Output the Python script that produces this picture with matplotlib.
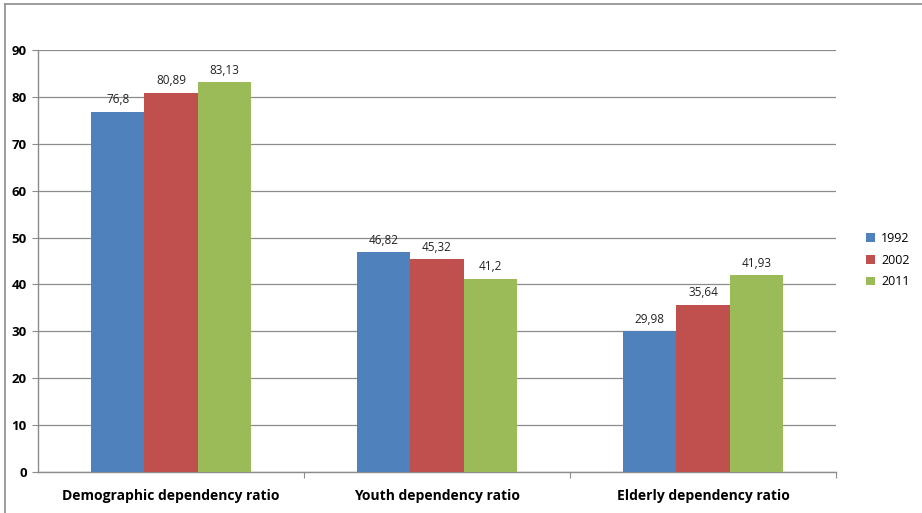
import numpy as np
import matplotlib.pyplot as plt
from matplotlib.lines import Line2D
from matplotlib.patches import Patch

categories = ['Demographic dependency ratio', 'Youth dependency ratio', 'Elderly dependency ratio']
years = ['1992', '2002', '2011']
values_1992 = [76.8, 46.82, 29.98]
values_2002 = [80.89, 45.32, 35.64]
values_2011 = [83.13, 41.2, 41.93]

colors = ['#4F81BD', '#C0504D', '#9BBB59']
plt.rcParams['font.family'] = ['Open Sans', 'DejaVu Sans']

fig = plt.figure(figsize=(9.22, 5.13), dpi=100)
ax = fig.add_axes([38 / 922, 1 - 472 / 513, (836 - 38) / 922, (472 - 50) / 513])

x = np.arange(len(categories))
width = 0.2
series = [values_1992, values_2002, values_2011]

for i, (vals, col) in enumerate(zip(series, colors)):
    pos = x + (i - 1) * width
    ax.bar(pos, vals, width=width, color=col, zorder=3)
    for p, v in zip(pos, vals):
        lbl = ('%g' % v).replace('.', ',')
        ax.text(p, v + 2.6, lbl, ha='center', va='center', fontsize=8.5, color='#222222')

ax.set_xlim(-0.5, 2.5)
ax.set_ylim(0, 90)
ax.set_yticks(range(0, 91, 10))
ax.set_yticklabels([str(t) for t in range(0, 91, 10)], fontsize=9.5, fontweight='bold')
ax.yaxis.grid(True, color='#8c8c8c', linewidth=0.9, zorder=0)
ax.set_axisbelow(True)

# category labels and boundary ticks
ax.set_xticks([0.5, 1.5, 2.5])
ax.set_xticklabels([])
ax.set_xticks(x, minor=True)
ax.set_xticklabels(categories, minor=True, fontsize=10, fontweight='bold')
ax.tick_params(axis='x', which='minor', length=0, pad=12)
ax.tick_params(axis='x', which='major', length=4, color='#8c8c8c')
ax.tick_params(axis='y', length=4, color='#8c8c8c', pad=4)

for s in ['top', 'right']:
    ax.spines[s].set_visible(False)
for s in ['left', 'bottom']:
    ax.spines[s].set_color('#8c8c8c')
    ax.spines[s].set_linewidth(1.0)

handles = [Patch(facecolor=c, edgecolor='none') for c in colors]
fig.legend(handles, years, loc='center left', bbox_to_anchor=(855 / 922, 1 - 260 / 513),
           frameon=False, fontsize=9, handlelength=0.7, handleheight=0.7,
           handletextpad=0.5, labelspacing=0.7)

# outer chart border (top and left)
fig.add_artist(Line2D([5 / 922, 1], [1 - 4 / 513, 1 - 4 / 513], color='#8c8c8c', linewidth=1.2))
fig.add_artist(Line2D([5 / 922, 5 / 922], [0, 1 - 4 / 513], color='#8c8c8c', linewidth=1.2))

fig.savefig('out.png', dpi=100)
